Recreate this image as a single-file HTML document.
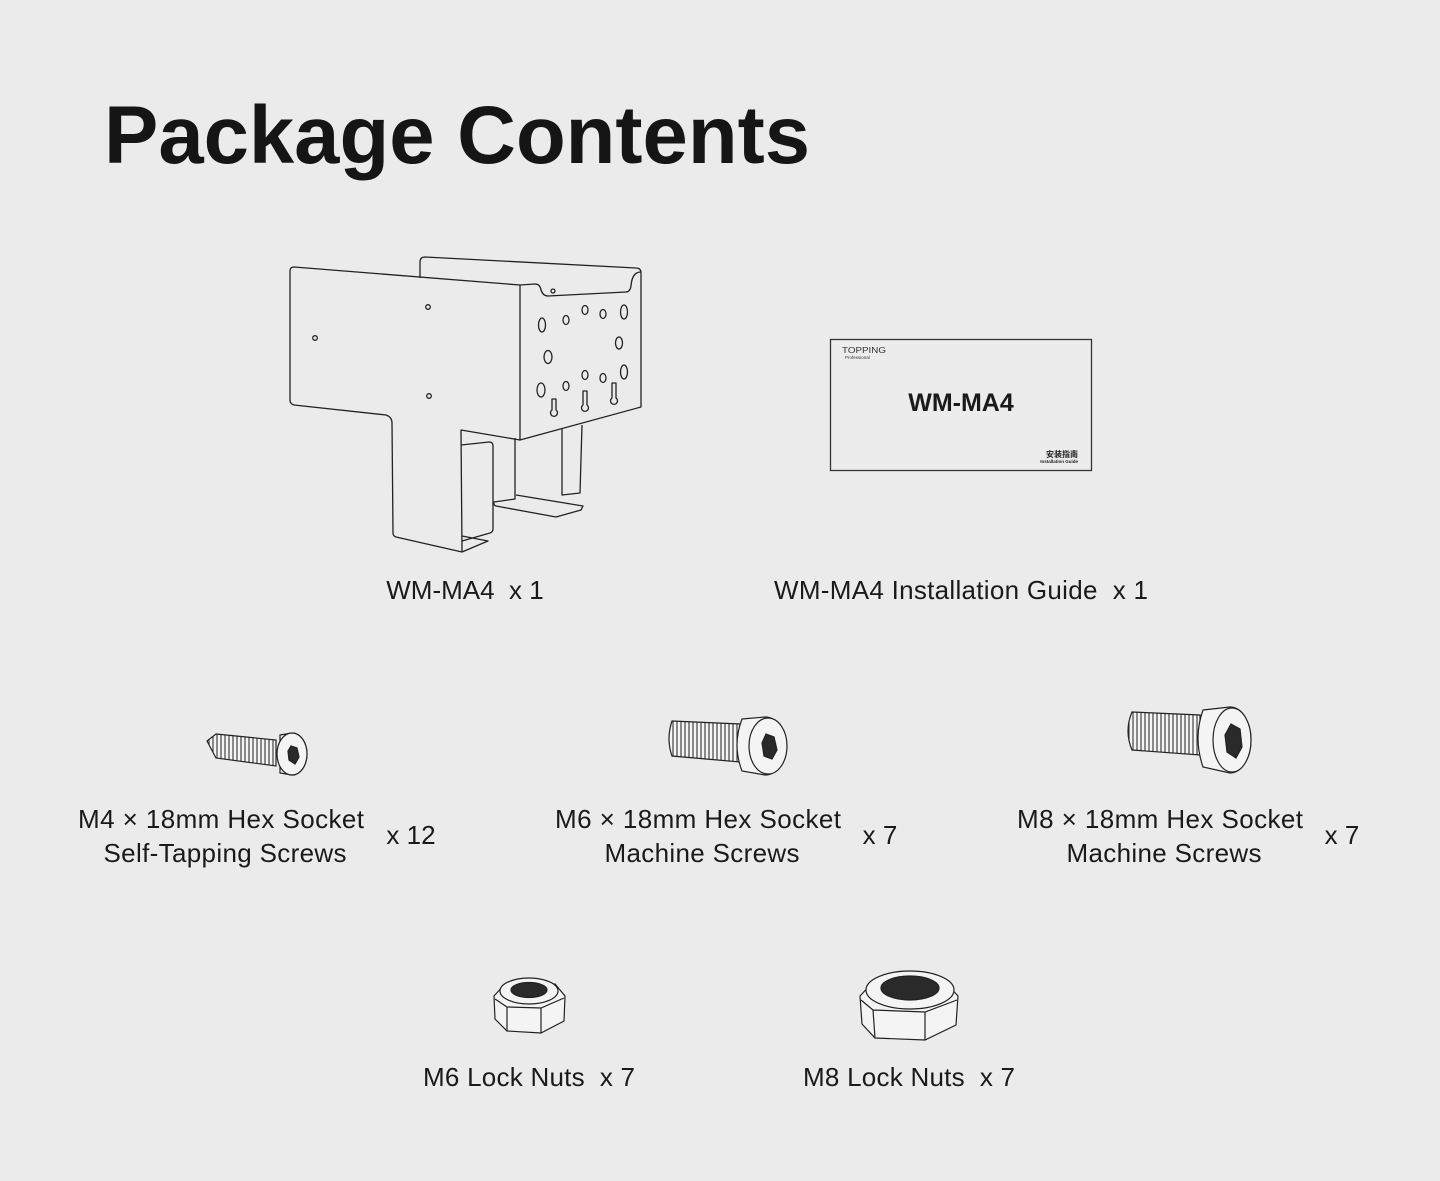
<!DOCTYPE html>
<html><head><meta charset="utf-8"><style>
html,body{margin:0;padding:0;background:#ebebeb;}
svg{display:block}
text{font-family:"Liberation Sans",sans-serif;fill:#1a1a1a}
</style></head><body>
<svg width="1440" height="1181" viewBox="0 0 1440 1181" xmlns="http://www.w3.org/2000/svg">
<defs>
<pattern id="th" width="4" height="10" patternUnits="userSpaceOnUse">
<rect width="4" height="10" fill="#f4f4f4"/><line x1="1" y1="0" x2="1" y2="10" stroke="#333" stroke-width="1.1"/>
</pattern>
</defs>
<rect width="1440" height="1181" fill="#ebebeb"/>
<text x="104" y="163" font-size="82" font-weight="bold" textLength="706" lengthAdjust="spacingAndGlyphs" style="fill:#151515">Package Contents</text>

<!-- bracket -->
<g fill="none" stroke="#222" stroke-width="1.3" stroke-linejoin="round">
<path d="M420 278 L420 262 Q420 257 425 257 L636 268 Q641 268 641 273"/>
<path d="M641 273 L641 407 L520 440 L520 285 L535 284 Q540 284 541 290 Q543 296 548 296 L626 292 Q630 292 631 286 Q632 272 641 272"/>
<path d="M520 285 L294 267 Q290 267 290 271 L290 400 Q290 404 294 405 L386 415 Q392 417 392 423 L393 533 Q393 536 396 537 L462 552 L488 541 L462 536"/>
<path d="M462 552 L461 430 L520 440"/>
<path d="M461 445 L489 442 Q493 442 493 446 L493 529 Q493 532 490 533 L462 541"/>
<path d="M515 438 L515 499 L494 502 Q493 505 496 506 L556 517 L581 510 L583 506 L516 495"/>
<path d="M562 429 L562 495 L580 493 L582 425"/>
<circle cx="428" cy="307" r="2.3"/><circle cx="315" cy="338" r="2.3"/><circle cx="429" cy="396" r="2.3"/><circle cx="553" cy="291" r="2"/>
<ellipse cx="542" cy="325" rx="3.5" ry="7"/><ellipse cx="566" cy="320" rx="3" ry="4.5"/><ellipse cx="585" cy="310" rx="3" ry="4.5"/><ellipse cx="603" cy="314" rx="3" ry="4.5"/><ellipse cx="624" cy="312" rx="3.5" ry="7"/>
<ellipse cx="548" cy="357" rx="4" ry="6.5"/><ellipse cx="619" cy="343" rx="3.5" ry="6"/>
<ellipse cx="541" cy="390" rx="4" ry="7"/><ellipse cx="566" cy="386" rx="3" ry="4.5"/><ellipse cx="585" cy="375" rx="3" ry="4.5"/><ellipse cx="603" cy="378" rx="3" ry="4.5"/><ellipse cx="624" cy="372" rx="3.5" ry="7"/>
<path d="M552 399 L552 410 A3.5 3.5 0 1 0 556 410 L556 399 Z"/>
<path d="M583 391 L583 405 A3.5 3.5 0 1 0 587 405 L587 391 Z"/>
<path d="M612 383 L612 398 A3.5 3.5 0 1 0 616 398 L616 383 Z"/>
</g>
<text x="465" y="599" font-size="26" text-anchor="middle">WM-MA4&#160; x 1</text>

<!-- guide -->
<rect x="830.5" y="339.5" width="261" height="131" fill="#ececec" stroke="#333" stroke-width="1.3"/>
<text x="842" y="353" font-size="8" style="fill:#333" textLength="44" lengthAdjust="spacingAndGlyphs">TOPPING</text>
<text x="845" y="359" font-size="4.5" style="fill:#333">Professional</text>
<text x="961" y="411" font-size="25" font-weight="bold" text-anchor="middle">WM-MA4</text>
<text x="1078" y="457" font-size="8" font-weight="bold" text-anchor="end" style="font-family:'Liberation Sans','Noto Sans CJK SC',sans-serif">安装指南</text>
<text x="1078" y="463" font-size="4.5" font-weight="bold" text-anchor="end">Installation Guide</text>
<text x="961" y="599" font-size="26" text-anchor="middle" textLength="374" lengthAdjust="spacing">WM-MA4 Installation Guide&#160; x 1</text>

<!-- screws -->
<g stroke="#222" stroke-width="1.2">
<path d="M216 734 L276 740 L276 766 L216 758 L207 741 Z" fill="url(#th)"/>
<path d="M280 735 L292 733 A15 21 0 0 1 292 775 L280 773 Z" fill="#f4f4f4"/>
<ellipse cx="292" cy="754" rx="15" ry="21" fill="#f4f4f4"/>
<path d="M291 746 L297 748 L299 757 L295 764 L289 760 L288 751 Z" fill="#2a2a2a"/>

<path d="M672 721 L740 724 L740 762 L672 756 Q666 739 672 721 Z" fill="url(#th)"/>
<path d="M742 719 L765 717 A21 29 0 0 1 765 775 L742 771 Q732 745 742 719 Z" fill="#f4f4f4"/>
<ellipse cx="768" cy="746" rx="19" ry="28" fill="#f4f4f4"/>
<path d="M766 734 L774 737 L777 750 L772 759 L764 756 L762 743 Z" fill="#2a2a2a"/>

<path d="M1132 712 L1200 715 L1200 755 L1132 750 Q1124 731 1132 712 Z" fill="url(#th)"/>
<path d="M1203 710 L1230 707 A21 33 0 0 1 1230 773 L1203 767 Q1193 738 1203 710 Z" fill="#f4f4f4"/>
<ellipse cx="1232" cy="740" rx="19" ry="32" fill="#f4f4f4"/>
<path d="M1231 724 L1240 729 L1242 747 L1236 758 L1227 752 L1225 735 Z" fill="#2a2a2a"/>
</g>
<g font-size="26" text-anchor="middle">
<text x="221" y="828" textLength="286" lengthAdjust="spacing">M4 × 18mm Hex Socket</text><text x="225" y="862" textLength="243" lengthAdjust="spacing">Self-Tapping Screws</text><text x="411" y="844">x 12</text>
<text x="698" y="828" textLength="286" lengthAdjust="spacing">M6 × 18mm Hex Socket</text><text x="702" y="862" textLength="195" lengthAdjust="spacing">Machine Screws</text><text x="880" y="844">x 7</text>
<text x="1160" y="828" textLength="286" lengthAdjust="spacing">M8 × 18mm Hex Socket</text><text x="1164" y="862" textLength="195" lengthAdjust="spacing">Machine Screws</text><text x="1342" y="844">x 7</text>
</g>

<!-- nuts -->
<g stroke="#222" stroke-width="1.2" fill="#f4f4f4">
<path d="M494 996 L505 984 L555 984 L565 996 L564 1021 L541 1033 L507 1031 L495 1019 Z"/>
<path d="M495 999 L507 1007 L541 1008 L564 998 M507 1007 L507 1031 M541 1008 L541 1033"/>
<ellipse cx="529" cy="991" rx="29" ry="13"/>
<ellipse cx="529" cy="990" rx="18" ry="7.5" fill="#2a2a2a"/>

<path d="M860 996 L874 981 L944 981 L958 996 L956 1025 L925 1040 L875 1038 L862 1024 Z"/>
<path d="M861 1000 L873 1010 L925 1012 L957 1000 M873 1010 L875 1038 M925 1012 L925 1040"/>
<ellipse cx="910" cy="990" rx="44" ry="19"/>
<ellipse cx="910" cy="988" rx="29" ry="12" fill="#2a2a2a"/>
</g>
<g font-size="26" text-anchor="middle">
<text x="529" y="1086" textLength="212" lengthAdjust="spacing">M6 Lock Nuts&#160; x 7</text>
<text x="909" y="1086" textLength="212" lengthAdjust="spacing">M8 Lock Nuts&#160; x 7</text>
</g>
</svg>
</body></html>
